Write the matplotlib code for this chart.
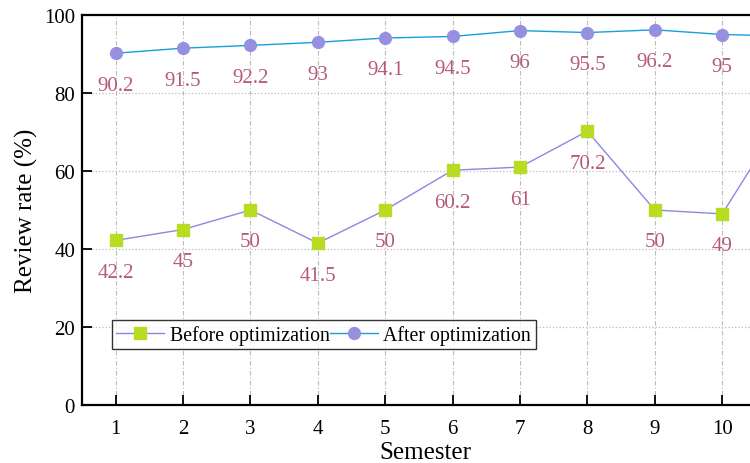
import matplotlib
matplotlib.use("Agg")
import matplotlib.pyplot as plt

plt.rcParams['font.family'] = ['Liberation Serif', 'DejaVu Serif']

semesters = [1, 2, 3, 4, 5, 6, 7, 8, 9, 10, 11]
before = [42.2, 45, 50, 41.5, 50, 60.2, 61, 70.2, 50, 49, 76.5]
after = [90.2, 91.5, 92.2, 93, 94.1, 94.5, 96, 95.5, 96.2, 95, 94.6]
before_labels = ["42.2", "45", "50", "41.5", "50", "60.2", "61", "70.2", "50", "49"]
after_labels = ["90.2", "91.5", "92.2", "93", "94.1", "94.5", "96", "95.5", "96.2", "95"]
xticks = [1, 2, 3, 4, 5, 6, 7, 8, 9, 10]
yticks = [0, 20, 40, 60, 80, 100]

fig = plt.figure(figsize=(7.5, 4.64), dpi=100)
ax = fig.add_axes([82/750, 58/464, 686/750, 390/464])

ax.plot(semesters, before, color='#8C88E2', lw=1.0, marker='s', ms=8,
        mfc='#B8DC22', mec='#B8DC22', label='Before optimization', zorder=3)
ax.plot(semesters, after, color='#1A9ED8', lw=1.0, marker='o', ms=8.5,
        mfc='#9690E0', mec='#9690E0', label='After optimization', zorder=3)

lab_color = '#B65A7C'
for x, y, t in zip(semesters, before, before_labels):
    ax.annotate(t, (x, y), xytext=(0, -23), textcoords='offset points',
                ha='center', va='center', fontsize=15, color=lab_color)
for x, y, t in zip(semesters, after, after_labels):
    ax.annotate(t, (x, y), xytext=(0, -23), textcoords='offset points',
                ha='center', va='center', fontsize=15, color=lab_color)

ax.set_xlim(0.5, 10.68)
ax.set_ylim(0, 100)
ax.set_xticks(xticks)
ax.set_yticks(yticks)
ax.tick_params(direction='in', length=7, width=1.3, labelsize=15)
ax.tick_params(axis='x', pad=10)
ax.tick_params(axis='y', pad=5)

ax.xaxis.grid(True, color='#BBBBBB', ls=(0, (4, 2, 1, 2)), lw=0.8)
ax.yaxis.grid(True, color='#BBBBBB', ls=':', lw=0.9)
ax.set_axisbelow(True)
for s in ax.spines.values():
    s.set_linewidth(1.6)

ax.set_xlabel('Semester', fontsize=18, labelpad=2)
ax.set_ylabel('Review rate (%)', fontsize=18, labelpad=4)

leg = ax.legend(loc='lower left', bbox_to_anchor=(30/686, 56/390), borderaxespad=0,
                ncol=2, fontsize=14.3, frameon=True, fancybox=False, edgecolor='black',
                columnspacing=0.0, handlelength=2.4, handletextpad=0.3,
                borderpad=0.22)
leg.get_frame().set_linewidth(1.0)

fig.savefig('out.png', dpi=100)
